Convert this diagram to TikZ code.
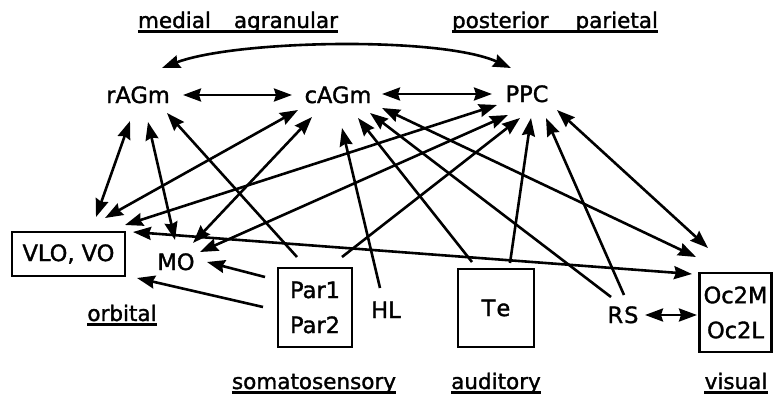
\documentclass[tikz,border=0pt]{standalone}
\usepackage{fontspec}
\setmainfont{DejaVu Sans}[FakeBold=1.5]
\usetikzlibrary{arrows.meta,calc}
\begin{document}
\begin{tikzpicture}[x=1pt,y=-1pt,
  lbl/.style={font=\fontsize{22.5}{35}\selectfont, inner sep=0pt, anchor=base},
  area/.style={font=\fontsize{21.5}{26}\selectfont, inner sep=0pt, anchor=base},
  box/.style={draw, line width=2.2pt, inner sep=0pt, font=\fontsize{22.5}{35}\selectfont, align=center},
  tip/.tip={Stealth[length=18pt,width=13pt,inset=2pt]},
  conn/.style={line width=2.6pt, -tip},
  dconn/.style={line width=2.6pt, tip-tip},
  uline/.style={line width=2.2pt}]
\useasboundingbox (0,0) rectangle (773,396);

% nodes
\node[lbl] (rAGm) at (138,103) {rAGm};
\node[lbl] (cAGm) at (338,103) {cAGm};
\node[lbl] (PPC) at (527,102) {PPC};
\node[lbl] (MO) at (176,270) {MO};
\node[lbl] (HL) at (386,318) {HL};
\node[lbl] (RS) at (623,323) {R\kern1pt S};
\node[box, minimum width=113pt, minimum height=44pt] (VLO) at (68.5,254) {VLO, VO};
\node[box, minimum width=74pt, minimum height=79pt] (Par) at (315,307.5) {Par1\\Par2};
\node[box, minimum width=76pt, minimum height=78pt] (Te) at (496,308) {T\kern1pt e};
\node[box, minimum width=72pt, minimum height=79pt] (Oc) at (735.5,312.5) {Oc2M\\Oc2L};

% area labels
\node[area] (med) at (238,28) {medial\hspace{23pt}agranular};
\node[area] (post) at (555,28) {posterior\hspace{27pt}parietal};
\node[area] (orb) at (122,321) {orbital};
\node[area] (som) at (314,389) {somatosensory};
\node[area] (aud) at (496,389) {auditory};
\node[area] (vis) at (736,389) {visual};
\foreach \n in {med,post,orb,som,aud,vis}
  \draw[uline] ($(\n.base west)+(0,3.5)$) -- ($(\n.base east)+(0,3.5)$);

% connections
\draw[dconn] ($(rAGm.base)+(24,-35)$) .. controls (235,40) and (440,36) .. ($(PPC.base)+(-16,-34)$);
\draw[dconn] ($(rAGm.base)+(45,-8)$) -- ($(cAGm.base)+(-46,-8)$);
\draw[dconn] ($(cAGm.base)+(44,-9)$) -- ($(PPC.base)+(-35,-8)$);
\draw[dconn] ($(rAGm.base)+(-8,18)$) -- ($(VLO)+(27.5,-37)$);
\draw[dconn] ($(rAGm.base)+(10,19)$) -- ($(MO.base)+(-1,-30)$);
\draw[conn] ($(Par)+(-18,-50.5)$) -- ($(rAGm.base)+(29,10)$);
\draw[dconn] ($(cAGm.base)+(-40,7)$) -- ($(VLO)+(36.5,-36)$);
\draw[dconn] ($(cAGm.base)+(-26,14)$) -- ($(MO.base)+(17,-27)$);
\draw[dconn] ($(PPC.base)+(-30,3)$) -- ($(VLO)+(56.5,-29)$);
\draw[dconn] ($(PPC.base)+(-19,13)$) -- ($(MO.base)+(24,-18)$);
\draw[conn] ($(Par)+(27,-50.5)$) -- ($(PPC.base)+(-7,16)$);
\draw[conn] ($(HL.base)+(-6,-30)$) -- ($(cAGm.base)+(4,25)$);
\draw[conn] ($(Te)+(-24,-46)$) -- ($(cAGm.base)+(20,15)$);
\draw[conn] ($(Te)+(14,-45)$) -- ($(PPC.base)+(4,16)$);
\draw[conn] ($(RS.base)+(-12,-26)$) -- ($(cAGm.base)+(32,10)$);
\draw[conn] ($(RS.base)+(1,-28)$) -- ($(PPC.base)+(19,16)$);
\draw[dconn] ($(cAGm.base)+(44,5)$) -- ($(Oc)+(-39.5,-55.5)$);
\draw[dconn] ($(PPC.base)+(30,8)$) -- ($(Oc)+(-27.5,-64.5)$);
\draw[dconn] ($(VLO)+(64.5,-22)$) -- ($(Oc)+(-43.5,-38.5)$);
\draw[conn] ($(Par)+(-50,-30.5)$) -- ($(MO.base)+(31,-8)$);
\draw[conn] ($(Par)+(-52,-0.5)$) -- ($(VLO)+(68.5,24)$);
\draw[dconn] ($(RS.base)+(22,-8)$) -- ($(Oc)+(-38.5,2.5)$);
\end{tikzpicture}
\end{document}
